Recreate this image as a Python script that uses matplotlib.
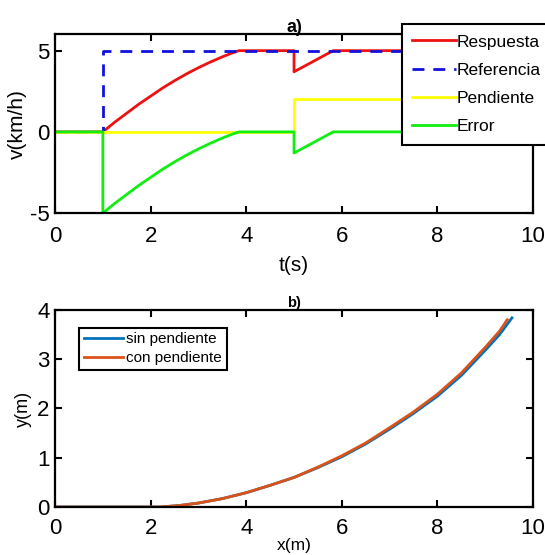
import matplotlib.pyplot as plt

# panel a) velocity response
t_resp = [0, 1, 1.25, 1.5, 1.75, 2, 2.25, 2.5, 2.75, 3, 3.25, 3.5, 3.7, 3.85, 5, 5, 5.82, 10]
v_resp = [0, 0, 0.6, 1.15, 1.7, 2.2, 2.7, 3.15, 3.57, 3.95, 4.3, 4.62, 4.85, 5, 5, 3.7, 5, 5]
t_ref = [0, 1, 1, 10]
v_ref = [0, 0, 5, 5]
t_pend = [0, 5, 5, 10]
v_pend = [0, 0, 2, 2]
t_err = [0, 1, 1, 1.25, 1.5, 1.75, 2, 2.25, 2.5, 2.75, 3, 3.25, 3.5, 3.7, 3.85, 5, 5, 5.82, 10]
v_err = [0, 0, -5, -4.4, -3.85, -3.3, -2.8, -2.3, -1.85, -1.43, -1.05, -0.7, -0.38, -0.15, 0, 0, -1.3, 0, 0]

# panel b) trajectory
x_sin = [0, 2.2, 2.6, 3, 3.5, 4, 4.5, 5, 5.5, 6, 6.5, 7, 7.5, 8, 8.5, 9, 9.3, 9.56]
y_sin = [0, 0, 0.03, 0.08, 0.17, 0.29, 0.44, 0.6, 0.8, 1.02, 1.28, 1.58, 1.9, 2.25, 2.67, 3.18, 3.5, 3.84]
x_con = [0, 2.2, 2.6, 3, 3.5, 4, 4.5, 5, 5.5, 6, 6.5, 7, 7.5, 8, 8.5, 9, 9.3, 9.46]
y_con = [0, 0, 0.03, 0.08, 0.17, 0.29, 0.44, 0.6, 0.81, 1.04, 1.3, 1.61, 1.93, 2.29, 2.72, 3.24, 3.57, 3.8]

plt.rcParams['font.family'] = ['Liberation Sans', 'DejaVu Sans']
plt.rcParams['axes.unicode_minus'] = False

fig = plt.figure(figsize=(5.45, 5.55), dpi=100)
ax1 = fig.add_axes([0.101, 0.616, 0.877, 0.322])
ax2 = fig.add_axes([0.101, 0.0865, 0.877, 0.355])

ax1.plot(t_resp, v_resp, color='#ee1111', lw=2, label='Respuesta')
ax1.plot(t_ref, v_ref, color='#1111dd', lw=2, dashes=(4.3, 3.2), label='Referencia')
ax1.plot(t_pend, v_pend, color='#ffff00', lw=2, label='Pendiente')
ax1.plot(t_err, v_err, color='#11ee11', lw=2, label='Error')
ax1.set_xlim(0, 10)
ax1.set_ylim(-5, 6)
ax1.set_xticks([0, 2, 4, 6, 8, 10])
ax1.set_yticks([-5, 0, 5])
ax1.set_xlabel('t(s)', fontsize=15, labelpad=7)
ax1.set_ylabel('v(km/h)', fontsize=15, labelpad=2)
ax1.set_title('a)', fontsize=13, fontweight='bold', pad=2)
ax1.tick_params(labelsize=16)
ax1.tick_params(axis='x', pad=9)
handles, labels = ax1.get_legend_handles_labels()
leg = fig.legend(handles, labels, loc='upper left', bbox_to_anchor=(402 / 545, 1 - 24 / 555),
                 borderaxespad=0, fontsize=12.5, handlelength=2.5, handletextpad=0.05,
                 labelspacing=0.75, borderpad=0.6, fancybox=False, framealpha=1,
                 edgecolor='black')
leg.get_frame().set_linewidth(1.5)

ax2.plot(x_sin, y_sin, color='#0072BD', lw=2, label='sin pendiente')
ax2.plot(x_con, y_con, color='#D95319', lw=2, label='con pendiente')
ax2.set_xlim(0, 10)
ax2.set_ylim(0, 4)
ax2.set_xticks([0, 2, 4, 6, 8, 10])
ax2.set_yticks([0, 1, 2, 3, 4])
ax2.set_xlabel('x(m)', fontsize=12.5, labelpad=-1)
ax2.set_ylabel('y(m)', fontsize=13, labelpad=4)
ax2.set_title('b)', fontsize=10.5, fontweight='bold', pad=2)
ax2.tick_params(labelsize=16)
ax2.tick_params(axis='x', pad=8)
leg2 = ax2.legend(loc='upper left', bbox_to_anchor=(0.05, 0.909), borderaxespad=0,
                  fontsize=11, handlelength=2.6, handletextpad=0.2, labelspacing=0.3,
                  borderpad=0.3, fancybox=False, framealpha=1, edgecolor='black')
leg2.get_frame().set_linewidth(1.5)

for ax in (ax1, ax2):
    for s in ax.spines.values():
        s.set_linewidth(1.6)
    ax.tick_params(direction='in', length=5, width=1.5, top=True, right=True)
    ax.tick_params(axis='y', pad=4)

fig.savefig('out.png', dpi=100)
